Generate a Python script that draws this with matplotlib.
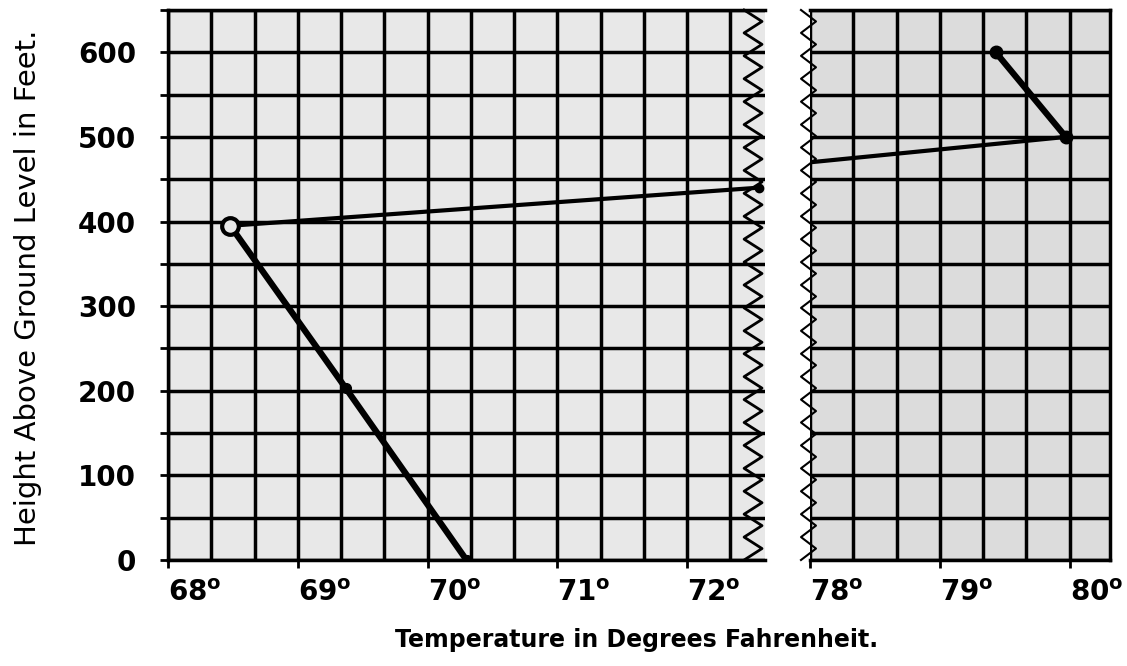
import numpy as np
import matplotlib.pyplot as plt

plt.rcParams['font.family'] = ['DejaVu Sans']
plt.rcParams['mathtext.fontset'] = 'custom'
plt.rcParams['mathtext.rm'] = 'DejaVu Sans:bold'
plt.rcParams['mathtext.bf'] = 'DejaVu Sans:bold'

# readings on the low part of the scale (left of the break)
temps_low = [70.3, 69.37, 68.48, 72.55]
heights_low = [0, 203, 395, 440]
# readings on the high part of the scale (right of the break)
temps_high = [78.0, 79.97, 79.43]
heights_high = [470, 500, 600]

low_ticks = [68, 69, 70, 71, 72]
high_ticks = [78, 79, 80]
height_ticks = [0, 100, 200, 300, 400, 500, 600]

W, H = 1127, 666
fig = plt.figure(figsize=(W / 100, H / 100), dpi=100)
ax1 = fig.add_axes([168 / W, 106 / H, 597 / W, 550 / H])
ax2 = fig.add_axes([810 / W, 106 / H, 300 / W, 550 / H])

for ax, lo, hi, ticks, paper in [(ax1, 68, 72.6, low_ticks, '#e8e8e8'),
                                 (ax2, 78, 80.31, high_ticks, '#dcdcdc')]:
    ax.set_facecolor(paper)
    ax.set_xlim(lo, hi)
    ax.set_ylim(0, 650)
    # graph paper: 1/3 degree by 50 feet
    ax.set_xticks(np.arange(lo, hi, 1 / 3), minor=True)
    ax.set_yticks(np.arange(0, 651, 50), minor=True)
    ax.set_xticks(ticks)
    ax.set_xticklabels([f'{t}$^{{\\mathrm{{o}}}}$' for t in ticks], ha='left',
                       fontsize=20, fontweight='bold')
    ax.set_yticks(height_ticks)
    ax.grid(which='both', color='black', linewidth=2.5)
    ax.set_axisbelow(True)
    ax.tick_params(axis='x', which='major', length=6, width=2, pad=8)
    ax.tick_params(axis='x', which='minor', length=0)
    for s in ax.spines.values():
        s.set_linewidth(2.5)

ax1.tick_params(axis='y', which='both', length=6, width=2, pad=17, labelsize=20)
for lab in ax1.get_yticklabels():
    lab.set_fontweight('bold')
ax2.tick_params(axis='y', which='both', length=0, labelleft=False)

# broken axis: hide the inner edges and draw jagged break marks
ax1.spines['right'].set_visible(False)
ax2.spines['left'].set_visible(False)
yy = np.linspace(0, 1, 49)
zig = np.arange(49) % 2
ax1.plot(0.965 + 0.03 * zig, yy, color='black', lw=2, transform=ax1.transAxes, clip_on=False)
ax2.plot(-0.03 + 0.05 * zig, yy, color='black', lw=1.5, transform=ax2.transAxes, clip_on=False)

# temperature profile
ax1.plot(temps_low[:3], heights_low[:3], color='black', lw=4.5, solid_capstyle='round')
ax1.plot(temps_low[2:], heights_low[2:], color='black', lw=3)
ax1.plot(temps_low[:2], heights_low[:2], 'o', color='black', ms=7)
ax1.plot(temps_low[2], heights_low[2], 'o', mfc='#e8e8e8', mec='black', ms=12, mew=3)
ax1.plot(temps_low[3], heights_low[3], 'o', color='black', ms=6, clip_on=False)

ax2.plot(temps_high, heights_high, color='black', lw=3)
ax2.plot(temps_high[1:], heights_high[1:], color='black', lw=4.5)
ax2.plot(temps_high[1:], heights_high[1:], 'o', color='black', ms=9)

fig.text(637 / W, 1 - 640 / H, 'Temperature in Degrees Fahrenheit.', ha='center', va='center',
         fontsize=17, fontweight='bold')
fig.text(28 / W, 1 - 288 / H, 'Height Above Ground Level in Feet.', ha='center', va='center',
         rotation=90, fontsize=21)

fig.savefig('out.png', dpi=100)
